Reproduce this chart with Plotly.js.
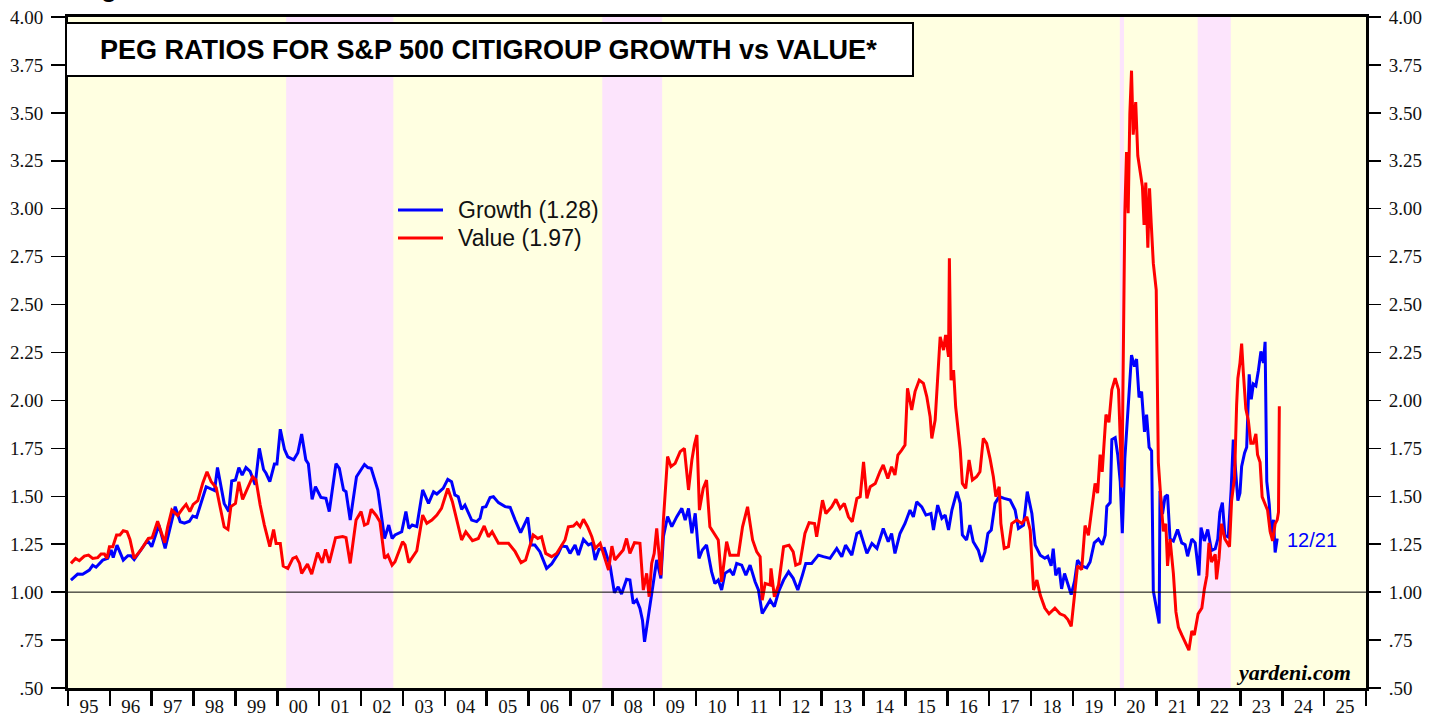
<!DOCTYPE html>
<html>
<head>
<meta charset="utf-8">
<script src="https://cdn.plot.ly/plotly-3.0.1.min.js"></script>
<style>html,body{margin:0;padding:0;background:#fff;}#chart{width:1439px;height:719px;}</style>
</head>
<body>
<div id="chart"></div>
<script>
// ---- data (decimal year, PEG ratio) ----
const growthYears = [1995.07,1995.23,1995.35,1995.51,1995.59,1995.67,1995.83,1995.95,1996.03,1996.08,1996.17,1996.32,1996.43,1996.50,1996.58,1996.90,1997.00,1997.17,1997.32,1997.46,1997.56,1997.68,1997.78,1997.90,1997.98,1998.07,1998.18,1998.30,1998.50,1998.57,1998.73,1998.84,1998.91,1999.00,1999.08,1999.16,1999.25,1999.35,1999.47,1999.57,1999.67,1999.73,1999.82,1999.93,1999.99,2000.07,2000.17,2000.25,2000.39,2000.49,2000.58,2000.68,2000.74,2000.83,2000.91,2001.04,2001.16,2001.24,2001.40,2001.48,2001.58,2001.64,2001.74,2001.89,2002.08,2002.16,2002.24,2002.40,2002.56,2002.66,2002.74,
2002.81,2002.97,2003.07,2003.14,2003.22,2003.33,2003.47,2003.61,2003.73,2003.81,2003.96,2004.07,2004.16,2004.24,2004.32,2004.40,2004.48,2004.64,2004.76,2004.84,2004.90,2004.98,2005.08,2005.16,2005.28,2005.44,2005.56,2005.68,2005.81,2005.98,2006.06,2006.15,2006.27,2006.43,2006.55,2006.71,2006.79,2006.91,2006.99,2007.11,2007.19,2007.31,2007.43,2007.52,2007.59,2007.68,2007.81,2007.95,2008.05,2008.14,2008.22,2008.34,2008.42,2008.50,2008.58,2008.66,2008.72,2008.77,2008.85,2008.90,2008.98,2009.06,2009.16,2009.22,2009.32,2009.42,2009.54,2009.66,2009.74,2009.82,2009.90,2009.98,2010.07,2010.15,2010.25,2010.37,
2010.45,2010.53,2010.61,2010.69,2010.81,2010.89,2010.97,2011.09,2011.19,2011.29,2011.41,2011.49,2011.58,2011.69,2011.77,2011.87,2011.97,2012.09,2012.21,2012.32,2012.43,2012.54,2012.62,2012.76,2012.92,2013.04,2013.20,2013.36,2013.48,2013.57,2013.72,2013.84,2013.92,2014.08,2014.20,2014.32,2014.47,2014.59,2014.67,2014.75,2014.87,2014.99,2015.11,2015.19,2015.27,2015.39,2015.49,2015.61,2015.67,2015.77,2015.87,2015.95,2016.03,2016.11,2016.23,2016.31,2016.36,2016.46,2016.54,2016.62,2016.74,2016.82,2016.90,2016.97,2017.05,2017.14,2017.24,2017.36,2017.50,2017.62,2017.70,2017.82,2017.91,2018.02,2018.10,2018.22,
2018.33,2018.40,2018.48,2018.53,2018.59,2018.67,2018.73,2018.80,2018.88,2018.96,2019.04,2019.11,2019.21,2019.33,2019.41,2019.51,2019.61,2019.70,2019.77,2019.81,2019.89,2019.93,2020.01,2020.07,2020.13,2020.18,2020.24,2020.32,2020.40,2020.47,2020.52,2020.58,2020.64,2020.71,2020.76,2020.82,2020.88,2020.92,2020.99,2021.06,2021.08,2021.14,2021.20,2021.26,2021.32,2021.40,2021.50,2021.60,2021.68,2021.74,2021.84,2021.92,2022.01,2022.06,2022.14,2022.22,2022.31,2022.40,2022.46,2022.51,2022.57,2022.63,2022.71,2022.78,2022.83,2022.89,2022.94,2022.99,2023.03,2023.10,2023.15,2023.21,2023.26,2023.31,2023.37,2023.43,2023.49,2023.55,2023.59,2023.63,2023.69,2023.73,2023.79,2023.83,2023.88];
const growthPEG = [1.063,1.094,1.093,1.115,1.14,1.13,1.167,1.176,1.22,1.18,1.245,1.167,1.19,1.19,1.17,1.27,1.237,1.35,1.228,1.36,1.446,1.367,1.36,1.37,1.397,1.39,1.47,1.55,1.53,1.65,1.463,1.42,1.58,1.585,1.65,1.61,1.65,1.63,1.56,1.75,1.64,1.62,1.576,1.668,1.668,1.85,1.745,1.706,1.69,1.727,1.825,1.69,1.67,1.484,1.55,1.494,1.489,1.42,1.67,1.646,1.533,1.524,1.376,1.602,1.666,1.65,1.646,1.533,1.28,1.35,1.28,
1.298,1.315,1.42,1.333,1.35,1.342,1.533,1.463,1.524,1.512,1.541,1.588,1.576,1.507,1.498,1.432,1.454,1.376,1.368,1.385,1.442,1.446,1.494,1.498,1.467,1.446,1.442,1.376,1.31,1.39,1.246,1.246,1.211,1.124,1.147,1.202,1.24,1.237,1.202,1.246,1.194,1.275,1.246,1.255,1.168,1.223,1.228,1.133,0.997,1.028,0.99,1.067,1.063,0.941,0.959,0.915,0.854,0.741,0.863,0.915,1.046,1.168,1.072,1.29,1.394,1.342,1.394,1.437,1.376,1.437,1.307,1.411,1.176,1.22,1.246,1.107,
1.045,1.063,1.011,1.098,1.115,1.089,1.15,1.141,1.089,1.141,1.054,1.011,0.889,0.932,0.958,0.924,1.002,1.063,1.106,1.072,1.011,1.089,1.15,1.15,1.193,1.185,1.176,1.228,1.185,1.245,1.193,1.306,1.315,1.202,1.254,1.228,1.332,1.263,1.306,1.202,1.306,1.358,1.428,1.393,1.471,1.445,1.402,1.41,1.324,1.454,1.385,1.402,1.324,1.428,1.524,1.463,1.298,1.272,1.35,1.263,1.219,1.158,1.21,1.306,1.324,1.463,1.498,1.489,1.48,1.428,1.332,1.35,1.524,1.41,1.245,1.193,
1.177,1.187,1.137,1.227,1.087,1.127,1.017,1.097,1.047,0.987,1.057,1.167,1.137,1.127,1.157,1.257,1.277,1.247,1.297,1.447,1.467,1.796,1.806,1.717,1.577,1.307,1.696,1.966,2.236,2.176,2.216,2.016,2.046,1.836,1.926,1.756,1.736,1.007,0.917,0.837,1.527,1.407,1.497,1.507,1.277,1.267,1.327,1.257,1.247,1.187,1.277,1.257,1.087,1.337,1.267,1.327,1.217,1.227,1.277,1.417,1.467,1.297,1.287,1.537,1.796,1.636,1.477,1.517,1.656,1.726,1.756,2.136,2.006,2.086,2.076,2.156,2.256,2.196,2.306,1.577,1.457,1.307,1.377,1.207,1.28];

const valueYears = [1995.07,1995.18,1995.27,1995.39,1995.49,1995.59,1995.71,1995.79,1995.87,1995.93,1995.99,1996.07,1996.16,1996.24,1996.32,1996.41,1996.48,1996.58,1996.74,1996.92,1997.01,1997.14,1997.31,1997.38,1997.48,1997.62,1997.74,1997.82,1997.91,1997.99,1998.10,1998.22,1998.32,1998.42,1998.54,1998.64,1998.73,1998.82,1998.89,1999.00,1999.08,1999.17,1999.29,1999.41,1999.49,1999.59,1999.69,1999.82,1999.91,1999.97,2000.07,2000.14,2000.25,2000.37,2000.45,2000.53,2000.58,2000.72,2000.82,2000.96,2001.07,2001.15,2001.24,2001.39,2001.56,2001.64,2001.74,2001.88,2002.00,2002.08,2002.16,2002.24,2002.36,2002.45,2002.56,2002.64,2002.74,
2002.81,2002.99,2003.05,2003.14,2003.33,2003.47,2003.57,2003.69,2003.81,2003.92,2004.07,2004.18,2004.28,2004.40,2004.50,2004.66,2004.80,2004.94,2005.04,2005.13,2005.28,2005.52,2005.68,2005.82,2005.93,2006.03,2006.11,2006.22,2006.31,2006.41,2006.55,2006.67,2006.79,2006.87,2006.95,2007.07,2007.15,2007.23,2007.31,2007.41,2007.51,2007.59,2007.71,2007.83,2007.91,2007.99,2008.06,2008.16,2008.26,2008.34,2008.42,2008.53,2008.66,2008.74,2008.82,2008.88,2008.94,2009.00,2009.06,2009.16,2009.22,2009.32,2009.40,2009.50,2009.62,2009.72,2009.82,2009.90,2009.96,2010.02,2010.08,2010.17,2010.25,2010.33,
2010.45,2010.53,2010.61,2010.73,2010.81,2011.01,2011.11,2011.23,2011.35,2011.45,2011.53,2011.58,2011.65,2011.77,2011.79,2011.87,2011.97,2012.09,2012.22,2012.32,2012.38,2012.48,2012.60,2012.70,2012.83,2012.88,2013.02,2013.10,2013.24,2013.34,2013.44,2013.54,2013.64,2013.73,2013.84,2013.92,2014.00,2014.08,2014.16,2014.28,2014.39,2014.47,2014.58,2014.67,2014.75,2014.82,2014.91,2014.99,2015.05,2015.15,2015.23,2015.33,2015.43,2015.51,2015.59,2015.63,2015.71,2015.77,2015.83,2015.91,2015.96,2016.03,2016.05,2016.09,2016.15,2016.20,2016.25,2016.31,2016.36,2016.44,2016.52,2016.60,2016.70,2016.78,2016.86,2016.94,2017.02,2017.10,2017.16,2017.24,2017.28,2017.36,2017.46,2017.54,2017.66,2017.78,2017.90,2017.98,2018.06,2018.14,2018.22,
2018.33,2018.43,2018.57,2018.69,2018.80,2018.88,2018.96,2019.04,2019.11,2019.21,2019.29,2019.37,2019.43,2019.53,2019.59,2019.65,2019.70,2019.79,2019.86,2019.93,2020.01,2020.09,2020.17,2020.20,2020.24,2020.28,2020.32,2020.36,2020.40,2020.44,2020.50,2020.55,2020.60,2020.66,2020.70,2020.74,2020.79,2020.83,2020.87,2020.92,2020.99,2021.04,2021.11,2021.16,2021.22,2021.26,2021.32,2021.40,2021.46,2021.52,2021.60,2021.68,2021.77,2021.84,2021.90,2021.99,2022.08,2022.14,2022.20,2022.25,2022.31,2022.40,2022.43,2022.49,2022.55,2022.63,2022.74,2022.79,2022.86,2022.91,2022.94,2022.99,2023.03,2023.07,2023.13,2023.19,2023.25,2023.31,2023.37,2023.41,2023.47,2023.52,2023.59,2023.65,2023.71,2023.77,2023.83,2023.88,2023.91,2023.93];
const valuePEG = [1.15,1.176,1.164,1.188,1.193,1.176,1.18,1.199,1.199,1.176,1.237,1.237,1.298,1.298,1.32,1.315,1.275,1.176,1.22,1.28,1.284,1.37,1.258,1.34,1.428,1.40,1.437,1.458,1.42,1.458,1.477,1.57,1.628,1.576,1.545,1.428,1.34,1.327,1.446,1.463,1.576,1.484,1.541,1.602,1.585,1.454,1.35,1.237,1.327,1.254,1.254,1.136,1.124,1.176,1.184,1.15,1.098,1.146,1.094,1.206,1.153,1.223,1.153,1.284,1.29,1.284,1.15,1.376,1.42,1.35,1.358,1.432,1.40,1.367,1.176,1.193,1.141,
1.159,1.263,1.246,1.154,1.216,1.402,1.359,1.376,1.402,1.437,1.541,1.472,1.376,1.272,1.315,1.268,1.28,1.345,1.289,1.315,1.255,1.255,1.211,1.154,1.168,1.246,1.298,1.28,1.289,1.202,1.185,1.202,1.246,1.272,1.341,1.345,1.362,1.341,1.38,1.341,1.289,1.228,1.255,1.168,1.115,1.24,1.168,1.194,1.22,1.28,1.202,1.258,1.255,1.011,1.098,0.976,1.15,1.202,1.333,1.089,1.376,1.707,1.655,1.672,1.733,1.75,1.533,1.689,1.768,1.82,1.428,1.541,1.585,1.341,
1.298,1.272,1.054,1.263,1.193,1.193,1.341,1.445,1.272,1.21,1.185,0.958,1.045,1.037,1.124,0.976,1.037,1.237,1.245,1.21,1.141,1.15,1.306,1.362,1.358,1.289,1.48,1.41,1.445,1.484,1.437,1.463,1.393,1.367,1.489,1.498,1.68,1.489,1.55,1.567,1.628,1.663,1.593,1.654,1.611,1.715,1.741,1.767,2.063,1.95,2.046,2.106,2.089,2.02,1.915,1.802,1.898,2.089,2.332,2.263,2.341,2.228,2.741,2.106,2.158,1.967,1.845,1.741,1.567,1.541,1.689,1.585,1.602,1.628,1.802,1.776,1.698,1.602,1.498,1.55,1.358,1.228,1.237,1.358,1.376,1.358,1.393,1.324,1.011,1.063,0.985,
0.917,0.887,0.917,0.887,0.877,0.857,0.821,0.987,1.137,1.117,1.347,1.297,1.407,1.567,1.517,1.717,1.627,1.926,1.886,2.056,2.116,2.056,1.546,2.116,2.976,3.296,2.976,3.496,3.72,3.386,3.556,3.276,3.196,3.116,2.916,3.136,2.796,3.106,2.926,2.716,2.576,1.677,1.457,1.317,1.357,1.137,1.277,1.097,0.897,0.817,0.777,0.737,0.697,0.797,0.777,0.887,0.917,1.017,1.087,1.257,1.157,1.197,1.067,1.177,1.357,1.277,1.237,1.477,1.597,1.976,2.116,2.196,2.296,2.146,1.956,1.896,1.777,1.777,1.826,1.717,1.677,1.497,1.457,1.427,1.317,1.267,1.357,1.377,1.417,1.97];

const seriesNames = ["Growth (1.28)", "Value (1.97)"];
const seriesColors = ["#0000FF", "#FF0000"];

// bear-market shading (start, end in decimal years)
const bandStart = [2000.21, 2007.76, 2020.12, 2021.98];
const bandEnd   = [2002.77, 2009.19, 2020.22, 2022.77];

// axes
const yearTicks = [];
for (let y = 1995; y <= 2026; y++) yearTicks.push(y);
const yearLabels = ["95","96","97","98","99","00","01","02","03","04","05","06","07","08","09","10","11","12","13","14","15","16","17","18","19","20","21","22","23","24","25"];
const yTickVals = [0.5,0.75,1.0,1.25,1.5,1.75,2.0,2.25,2.5,2.75,3.0,3.25,3.5,3.75,4.0];
const yTickText = [".50",".75","1.00","1.25","1.50","1.75","2.00","2.25","2.50","2.75","3.00","3.25","3.50","3.75","4.00"];

const chartTitle = "PEG RATIOS FOR S&P 500 CITIGROUP GROWTH vs VALUE*";
const lastDate = "12/21";

const serif = "Liberation Serif, Times New Roman, serif";
const sans = "Liberation Sans, Arial, sans-serif";

const traces = [
  {x: growthYears, y: growthPEG, type: "scatter", mode: "lines", name: seriesNames[0],
   line: {color: seriesColors[0], width: 3}, hoverinfo: "skip", showlegend: false},
  {x: valueYears, y: valuePEG, type: "scatter", mode: "lines", name: seriesNames[1],
   line: {color: seriesColors[1], width: 3}, hoverinfo: "skip", showlegend: false},
  {x: [], y: [], xaxis: "x2", yaxis: "y", showlegend: false, hoverinfo: "skip"},
  {x: [], y: [], xaxis: "x", yaxis: "y2", showlegend: false, hoverinfo: "skip"}
];

// paper-coordinate helpers for the fixed plot area (68..1366 x 17..688)
const px = v => (v - 68) / 1298;
const py = v => (688 - v) / 671;

const shapes = [];
for (let i = 0; i < bandStart.length; i++) {
  shapes.push({type: "rect", xref: "x", yref: "paper", x0: bandStart[i], x1: bandEnd[i], y0: 0, y1: 1,
    fillcolor: "rgb(252,228,252)", line: {width: 0}, layer: "below"});
}
shapes.push({type: "line", xref: "paper", yref: "y", x0: 0, x1: 1, y0: 1, y1: 1,
  line: {color: "#000", width: 1}, layer: "above"});
shapes.push({type: "rect", xref: "paper", yref: "paper", x0: px(66), x1: px(913), y0: py(76), y1: py(23),
  fillcolor: "#fff", line: {color: "#000", width: 2}, layer: "above"});
// legend keys
const legendRows = [210, 238];
for (let i = 0; i < 2; i++) {
  shapes.push({type: "line", xref: "paper", yref: "paper", x0: px(398), x1: px(443), y0: py(legendRows[i]), y1: py(legendRows[i]),
    line: {color: seriesColors[i], width: 3}, layer: "above"});
}

const xCommon = {range: [1995, 2026], showgrid: false, zeroline: false, fixedrange: true};
const yCommon = {range: [0.5, 4.0], tickmode: "array", tickvals: yTickVals, ticktext: yTickText,
  ticks: "outside", ticklen: 14, tickwidth: 1.5, tickcolor: "#000", showgrid: false, zeroline: false,
  tickfont: {family: serif, size: 19, color: "#111"}, fixedrange: true, ticklabelstandoff: 4};

const annotations = [
  {xref: "paper", yref: "paper", x: px(489), y: py(50), xanchor: "center", yanchor: "middle", showarrow: false,
   text: "<b>" + chartTitle.replace(/&/g, "&amp;") + "</b>", font: {family: sans, size: 27, color: "#000"}},
  {xref: "x", yref: "y", x: 2024.71, y: 1.272, xanchor: "center", yanchor: "middle", showarrow: false,
   text: lastDate, font: {family: sans, size: 20, color: "#0000FF"}},
  {xref: "paper", yref: "paper", x: px(1353), y: py(672), xanchor: "right", yanchor: "middle", showarrow: false,
   text: "<b><i>yardeni.com</i></b>", font: {family: serif, size: 22, color: "#000"}},
  {xref: "paper", yref: "paper", x: px(76), y: py(5), xanchor: "left", yanchor: "bottom", showarrow: false,
   text: "<b>Figure 8.</b>", font: {family: sans, size: 26, color: "#000"}}
];
for (let i = 0; i < 2; i++) {
  annotations.push({xref: "paper", yref: "paper", x: px(456), y: py(legendRows[i]), xanchor: "left", yanchor: "middle",
    showarrow: false, text: seriesNames[i], font: {family: sans, size: 23, color: "#111"}});
}

const layout = {
  width: 1439, height: 719,
  margin: {l: 68, r: 73, t: 17, b: 31, pad: 0},
  paper_bgcolor: "#fff", plot_bgcolor: "rgb(255,255,225)",
  showlegend: false,
  xaxis: Object.assign({}, xCommon, {tickmode: "array", tickvals: yearTicks, ticktext: yearTicks.map(() => ""),
    ticks: "outside", ticklen: 15, tickwidth: 2.5, tickcolor: "#000",
    showline: true, linewidth: 3, linecolor: "#000", mirror: true}),
  xaxis2: Object.assign({}, xCommon, {overlaying: "x", anchor: "y", side: "bottom",
    tickmode: "array", tickvals: yearTicks.slice(0, -1).map(v => v + 0.5), ticktext: yearLabels,
    ticks: "", showline: false, ticklabelstandoff: 5,
    tickfont: {family: serif, size: 19, color: "#111"}}),
  yaxis: Object.assign({}, yCommon, {side: "left", showline: true, linewidth: 3, linecolor: "#000", mirror: true}),
  yaxis2: Object.assign({}, yCommon, {overlaying: "y", side: "right", anchor: "x", showline: false}),
  shapes: shapes,
  annotations: annotations
};

Plotly.newPlot("chart", traces, layout, {displayModeBar: false, staticPlot: true});
</script>
</body>
</html>
